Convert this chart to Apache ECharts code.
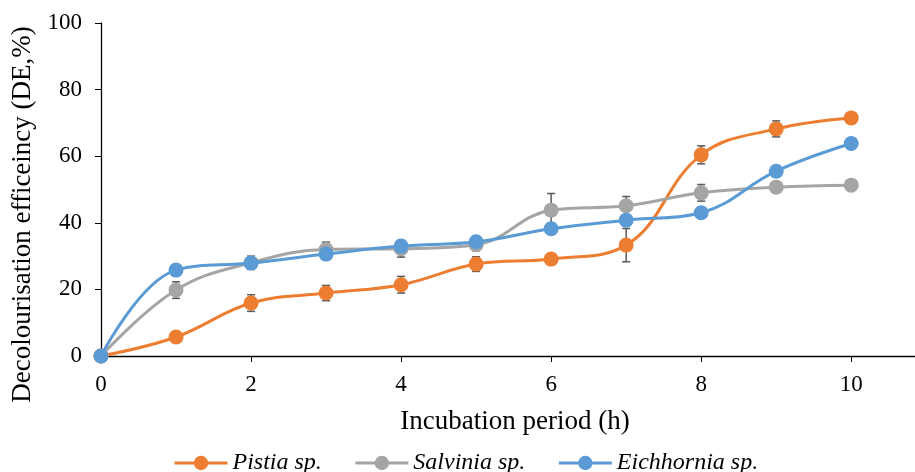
<!DOCTYPE html>
<html><head><meta charset="utf-8">
<script src="https://cdn.jsdelivr.net/npm/echarts@6/dist/echarts.min.js"></script>
<style>html,body{margin:0;padding:0;background:#fff}#c{width:915px;height:472px}</style>
</head><body><div id="c"></div>
<script>
const hours = [0,1,2,3,4,5,6,7,8,9,10];
const seriesNames = ['Pistia sp.','Salvinia sp.','Eichhornia sp.'];
const pistia = [0,5.7,15.9,18.9,21.4,27.6,29.1,33.3,60.4,68.2,71.5];
const pistiaErr = [0,0.8,2.5,2.3,2.5,2.2,1.3,5.0,2.7,2.4,0.5];
const salvinia = [0,19.8,28.0,32.0,32.2,33.4,43.8,45.1,49.0,50.7,51.3];
const salviniaErr = [0,2.5,2.0,2.2,2.5,1.8,5.0,2.8,2.5,0.6,0.5];
const eichhornia = [0,25.8,27.9,30.6,33.0,34.3,38.2,40.8,43.0,55.5,63.8];
const eichhorniaErr = [0,0.8,1.0,0.8,1.0,0.8,0.8,0.8,0.8,0.8,0.8];
const xTicks = [0,2,4,6,8,10];
const yTicks = [0,20,40,60,80,100];

const colors = ['#ED7D31','#A5A5A5','#5B9BD5'];
const vals = [pistia, salvinia, eichhornia];
const errs = [pistiaErr, salviniaErr, eichhorniaErr];
const font = 'Liberation Serif';

const series = [];
vals.forEach((v,i)=>{
  series.push({
    type:'custom', name: seriesNames[i]+' err', z:1, silent:true,
    data: hours.map((h,k)=>[h, v[k]-errs[i][k], v[k]+errs[i][k]]),
    renderItem:(params, api)=>{
      const lo = api.coord([api.value(0), api.value(1)]);
      const hi = api.coord([api.value(0), api.value(2)]);
      const w = 4;
      const st = {stroke:'#595959', lineWidth:1.5};
      return {type:'group', children:[
        {type:'line', shape:{x1:lo[0],y1:lo[1],x2:hi[0],y2:hi[1]}, style:st},
        {type:'line', shape:{x1:lo[0]-w,y1:lo[1],x2:lo[0]+w,y2:lo[1]}, style:st},
        {type:'line', shape:{x1:hi[0]-w,y1:hi[1],x2:hi[0]+w,y2:hi[1]}, style:st}
      ]};
    }
  });
});
vals.forEach((v,i)=>{
  series.push({
    type:'line', name: seriesNames[i], z:3+i,
    data: hours.map((h,k)=>[h, v[k]]),
    smooth:0.4, symbol:'circle', symbolSize:15,
    lineStyle:{width:3, color:colors[i]},
    itemStyle:{color:colors[i]}
  });
});

const chart = echarts.init(document.getElementById('c'), null, {renderer:'canvas'});
chart.setOption({
  animation:false,
  color: colors,
  grid:{left:101, right:0, top:23, bottom:116},
  legend:{
    data: seriesNames, top:446, left:168,
    itemWidth:53, itemHeight:18, itemGap:32,
    lineStyle:{width:3},
    textStyle:{fontFamily:font, fontStyle:'italic', fontSize:24, color:'#000'}
  },
  xAxis:{
    type:'value', min:0, max:10.85, interval:2,
    name:'Incubation period (h)', nameLocation:'middle', nameGap:52,
    nameTextStyle:{fontFamily:font, fontSize:27, color:'#000', padding:[0,0,0,14]},
    axisLine:{lineStyle:{color:'#000', width:1.3}},
    axisTick:{show:true, inside:false, length:6, lineStyle:{color:'#000'}},
    axisLabel:{showMaxLabel:false, margin:17, fontFamily:font, fontSize:23, color:'#000',
      formatter:v=> xTicks.includes(v) ? String(v) : ''},
    splitLine:{show:false}
  },
  yAxis:{
    type:'value', min:0, max:100, interval:20,
    name:'Decolourisation efficeincy (DE,%)', nameLocation:'middle', nameGap:65,
    nameTextStyle:{fontFamily:font, fontSize:27, color:'#000', padding:[0,50,0,0]},
    axisLine:{show:true, lineStyle:{color:'#000', width:1.3}},
    axisTick:{show:true, inside:false, length:6, lineStyle:{color:'#000'}},
    axisLabel:{margin:19, fontFamily:font, fontSize:23, color:'#000',
      formatter:v=> yTicks.includes(v) ? String(v) : ''},
    splitLine:{show:false}
  },
  series: series
});
</script></body></html>
